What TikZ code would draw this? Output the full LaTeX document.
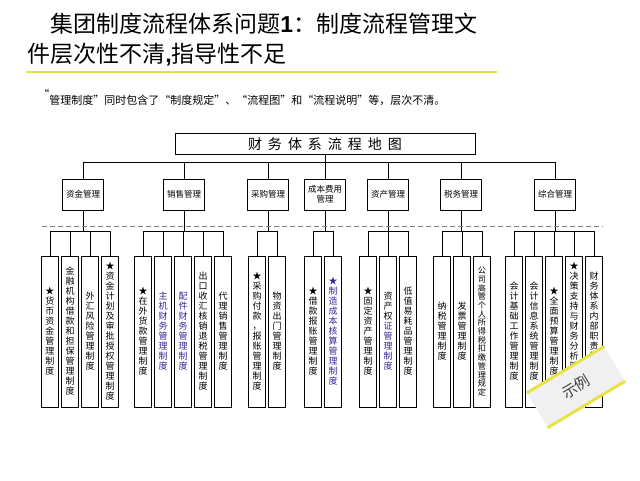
\documentclass[tikz,border=0pt]{standalone}
\usepackage{fontspec}
\setmainfont{Noto Sans CJK SC}
\newfontfamily\latinfont{Liberation Sans}
\definecolor{leafblue}{RGB}{55,40,150}
\definecolor{rulecol}{RGB}{232,226,70}
\makeatletter
\newcommand\vchars[1]{\edef\vt@do{\noexpand\@tfor\noexpand\vt@c:=#1\noexpand\do}\vt@do{\hbox to 17pt{\hss\vt@c\hss}}}
\newcommand\vtext[1]{\vbox{\vchars{#1}}}
\newcommand\spaced[1]{\@tfor\sp@c:=#1\do{\hbox to 20pt{\hss\sp@c\hss}}}
\makeatother

\begin{document}
\begin{tikzpicture}[x=1pt,y=-1pt,line width=0.6pt,
    mapbox/.style={draw,minimum width=300pt,minimum height=21pt,inner sep=0pt,font=\fontsize{14}{16}\selectfont},
    catbox/.style={draw,minimum width=41pt,minimum height=31pt,inner sep=1pt,align=center,font=\fontsize{8.5}{10}\selectfont},
    leaf/.style={draw,minimum width=17pt,minimum height=151pt,inner sep=0pt,font=\fontsize{9}{10}\selectfont},
    plain/.style={},
    bluetext/.style={text=leafblue},
    tight/.style={font=\fontsize{8.2}{8.7}\selectfont},
    stamp/.style={fill=gray!12,minimum width=90pt,minimum height=40pt,inner sep=0pt,text=black!75,font=\fontsize{15}{17}\selectfont}]
    \fill[white] (0,0) rectangle (640,480);
    \useasboundingbox (0,0) rectangle (640,480);
    \node[anchor=base west,inner sep=0pt,font=\fontsize{23}{26}\selectfont] (title1) at (50,32) {集团制度流程体系问题{\latinfont\bfseries 1}：制度流程管理文};
    \node[anchor=base west,inner sep=0pt,font=\fontsize{23}{26}\selectfont] (title2) at (27,62) {件层次性不清{\latinfont\bfseries ,}指导性不足};
    \draw[rulecol,line width=2.5pt] (26,72) -- (497,72);
    \node[anchor=base west,inner sep=0pt,font=\fontsize{11}{13}\selectfont] (note) at (38,104) {\raisebox{6pt}{“}管理制度”同时包含了“制度规定”、“流程图”和“流程说明”等，层次不清。};

    \node[mapbox] (map) at (325,144) {\spaced{财务体系流程地图}};
    \coordinate (bus) at (325,162);
    \draw (map.south) -- (bus);
    \foreach \n/\x/\t in {zj/83/资金管理,xs/184/销售管理,cg/268/采购管理,cb/325/{成本费用\\管理},zc/388/资产管理,sw/461/税务管理,zh/555/综合管理}{
        \node[catbox] (\n) at (\x,194.5) {\t};
        \draw (\n.north) |- (bus);
        \coordinate (\n-bus) at (\x,231);
        \draw (\n.south) -- (\n-bus);
    }
    \draw[gray,dash pattern=on 5pt off 3pt] (42,226) -- (603,226);

    \foreach \t [count=\i] in {★货币资金管理制度,金融机构借款和担保管理制度,外汇风险管理制度,★资金计划及审批授权管理制度}{
        \node[leaf] (zj\i) at ({30+20*\i},331.5) {\vtext{\t}};
        \draw (zj\i.north) |- (zj-bus);
    }
    \foreach \t/\o [count=\i] in {★在外货款管理制度/plain,主机财务管理制度/bluetext,配件财务管理制度/bluetext,出口收汇核销退税管理制度/plain,代理销售管理制度/plain}{
        \node[leaf,\o] (xs\i) at ({123+20*\i},331.5) {\vtext{\t}};
        \draw (xs\i.north) |- (xs-bus);
    }
    \foreach \t [count=\i] in {★采购付款，报账管理制度,物资出门管理制度}{
        \node[leaf] (cg\i) at ({237+20*\i},331.5) {\vtext{\t}};
        \draw (cg\i.north) |- (cg-bus);
    }
    \foreach \t/\o [count=\i] in {★借款报账管理制度/plain,★制造成本核算管理制度/bluetext}{
        \node[leaf,\o] (cb\i) at ({293+20*\i},331.5) {\vtext{\t}};
        \draw (cb\i.north) |- (cb-bus);
    }
    \node[leaf] (zc1) at (368,331.5) {\vtext{★固定资产管理制度}};
    \node[leaf] (zc2) at (388,331.5) {\vbox{\vchars{资产权}\color{leafblue}\vchars{证管理制度}}};
    \node[leaf] (zc3) at (408,331.5) {\vtext{低值易耗品管理制度}};
    \foreach \i in {1,2,3}
        \draw (zc\i.north) |- (zc-bus);
    \foreach \t/\o [count=\i] in {纳税管理制度/plain,发票管理制度/plain,公司高管个人所得税扣缴管理规定/tight}{
        \node[leaf,\o] (sw\i) at ({422+20*\i},331.5) {\vtext{\t}};
        \draw (sw\i.north) |- (sw-bus);
    }
    \foreach \t [count=\i] in {会计基础工作管理制度,会计信息系统管理制度,★全面预算管理制度,★决策支持与财务分析管理制度,财务体系内部职责管理制度}{
        \node[leaf] (zh\i) at ({494+20*\i},331.5) {\vtext{\t}};
        \draw (zh\i.north) |- (zh-bus);
    }

    \node[stamp,rotate=31] (demo) at (576,387) {示例};
    \draw[rulecol,line width=3pt] (demo.north west) -- (demo.north east);
    \draw[rulecol,line width=3pt] (demo.south west) -- (demo.south east);
\end{tikzpicture}
\end{document}
